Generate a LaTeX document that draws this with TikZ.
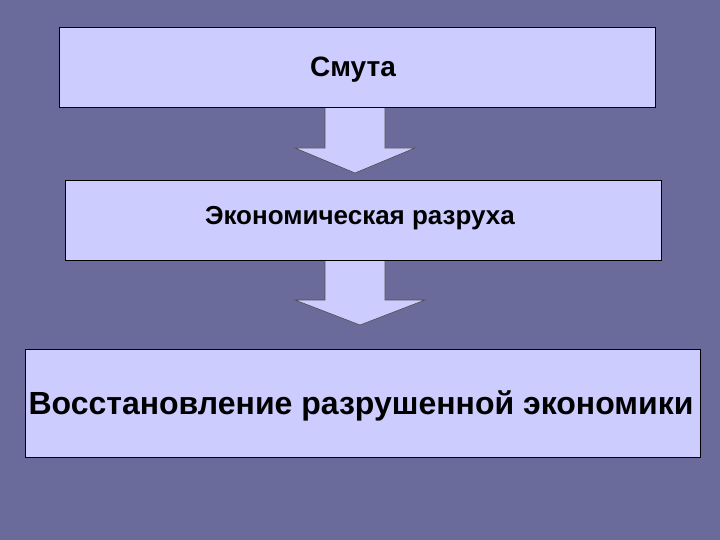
\documentclass[tikz,border=0pt]{standalone}
\usepackage{fontspec}
\setmainfont{Liberation Sans}
\definecolor{bg}{HTML}{6B6B9B}
\definecolor{boxf}{HTML}{CCCCFF}
\begin{document}
\begin{tikzpicture}[x=1pt,y=-1pt,
  box/.style={draw=black,fill=boxf,line width=0.8pt},
  arr/.style={fill=boxf,draw=gray!60!black,line width=0.6pt}]
\fill[bg] (0,0) rectangle (720,540);
\useasboundingbox (0,0) rectangle (720,540);
\draw[arr] (325,100) -- (385,100) -- (385,148) -- (415,148) -- (355,173) -- (295,148) -- (325,148) -- cycle;
\draw[arr] (325,255) -- (385,255) -- (385,300) -- (425,300) -- (360,325) -- (295,300) -- (325,300) -- cycle;
\node[box,minimum width=596,minimum height=80,anchor=north west] (b1) at (59,27) {};
\node[box,minimum width=596,minimum height=80,anchor=north west] (b2) at (65,180) {};
\node[box,minimum width=675,minimum height=108,anchor=north west] (b3) at (25,349) {};
\node[font=\bfseries\fontsize{28}{34}\selectfont] (t1) at (353,70) {Смута};
\node[font=\bfseries\fontsize{26}{31}\selectfont] (t2) at (360,218) {Экономическая разруха};
\node[font=\bfseries\fontsize{32}{38}\selectfont] (t3) at (361,406) {Восстановление разрушенной экономики};
\end{tikzpicture}
\end{document}
